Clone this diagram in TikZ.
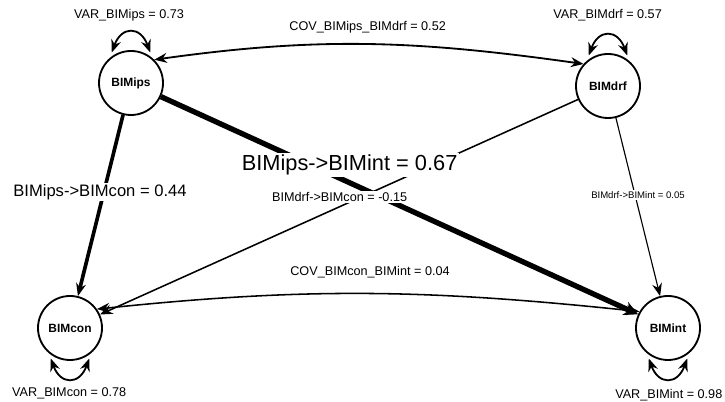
\documentclass[tikz,border=0pt]{standalone}
\usepackage{fontspec}
\setmainfont{Liberation Sans}
\usepackage{tikz}
\usetikzlibrary{arrows.meta}

\begin{document}
\begin{tikzpicture}[
    latent/.style={draw, circle, line width=1.3pt, minimum size=1.6cm, inner sep=0pt, font=\fontsize{8.5}{9}\selectfont\bfseries},
    regpath/.style={-{Stealth[length=9pt, width=7pt]}},
    cov/.style={{Stealth[length=9pt, width=7pt]}-{Stealth[length=9pt, width=7pt]}, line width=1.3pt},
    varloop/.style={cov, shorten <=4pt, shorten >=4pt},
    lbl/.style={font=\fontsize{9}{11}\selectfont},
    coef/.style={fill=white, inner sep=1pt}
]
    \useasboundingbox (0, 0) rectangle (18.125, 10.05);

    % latent variables
    \node [latent] (ips) at (3.275, 7.975) {BIMips};
    \node [latent] (drf) at (15.2, 7.9) {BIMdrf};
    \node [latent] (con) at (1.75, 1.85) {BIMcon};
    \node [latent] (int) at (16.7, 1.85) {BIMint};

    % regressions
    \draw [-{Stealth[length=10pt, width=10pt]}, line width=3.8pt] (ips) -- (int);
    \draw [regpath, line width=2.6pt] (ips) -- (con);
    \draw [regpath, line width=1.1pt] (drf) -- (con);
    \draw [regpath, line width=0.8pt] (drf) -- (int);

    % covariances
    \draw [cov] (ips.45) to [out=8, in=172] (drf.138);
    \draw [cov, line width=1.1pt] (con.35) to [out=6, in=174] (int.150);

    % variances
    \draw [varloop] (ips.130) .. controls +(70:0.85) and +(110:0.85) .. (ips.50);
    \draw [varloop] (drf.130) .. controls +(70:0.85) and +(110:0.85) .. (drf.50);
    \draw [varloop] (con.-130) .. controls +(-70:0.85) and +(-110:0.85) .. (con.-50);
    \draw [varloop] (int.-130) .. controls +(-70:0.85) and +(-110:0.85) .. (int.-50);

    \node [lbl] (vips) at (3.225, 9.675) {VAR\_BIMips = 0.73};
    \node [lbl] (vdrf) at (15.19, 9.675) {VAR\_BIMdrf = 0.57};
    \node [lbl] (vcon) at (1.73, 0.225) {VAR\_BIMcon = 0.78};
    \node [lbl] (vint) at (16.72, 0.175) {VAR\_BIMint = 0.98};
    \node [lbl] (cipsdrf) at (9.19, 9.375) {COV\_BIMips\_BIMdrf = 0.52};
    \node [lbl] (cconint) at (9.25, 3.25) {COV\_BIMcon\_BIMint = 0.04};

    % coefficients
    \node [coef, font=\fontsize{15.5}{17}\selectfont] (bipsint) at (8.74, 5.925) {BIMips->BIMint = 0.67};
    \node [coef, font=\fontsize{11.8}{13}\selectfont] (bipscon) at (2.5, 5.25) {BIMips->BIMcon = 0.44};
    \node [coef, font=\fontsize{9}{10}\selectfont] (bdrfcon) at (8.49, 5.125) {BIMdrf->BIMcon = -0.15};
    \node [coef, font=\fontsize{6.8}{8}\selectfont] (bdrfint) at (15.95, 5.175) {BIMdrf->BIMint = 0.05};
\end{tikzpicture}
\end{document}
